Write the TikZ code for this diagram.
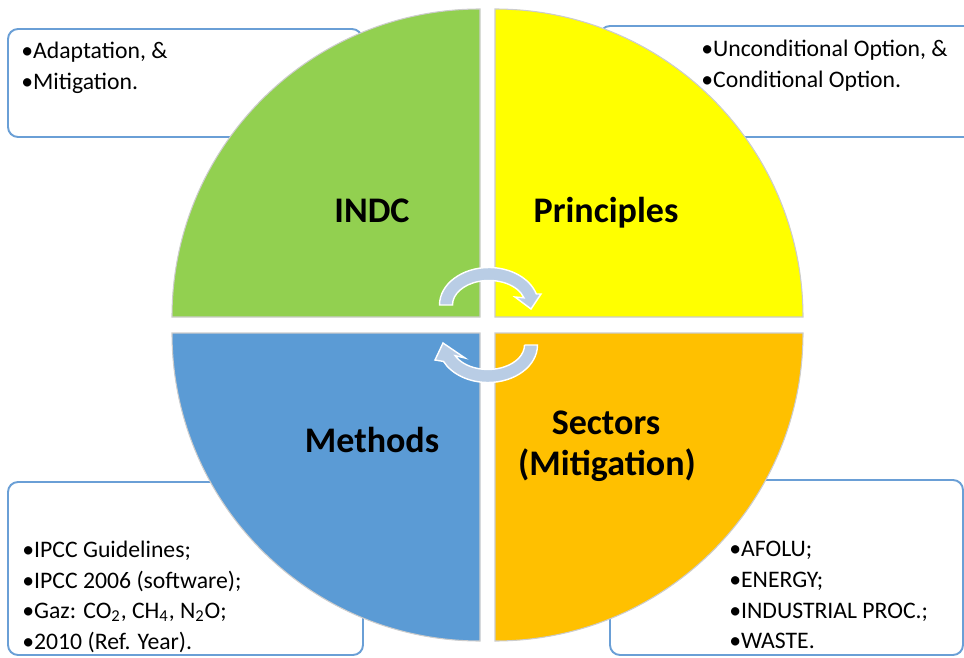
\documentclass[tikz,border=0pt]{standalone}
\usepackage{fontspec}
\setmainfont{Carlito}

\definecolor{indcgreen}{HTML}{92D050}
\definecolor{princyellow}{HTML}{FFFF00}
\definecolor{sectorange}{HTML}{FFC000}
\definecolor{methblue}{HTML}{5B9BD5}
\definecolor{boxline}{HTML}{6A9FD6}
\definecolor{cyclefill}{HTML}{B9CDE5}

\tikzset{
  listbox/.style={draw=boxline, line width=1.1pt, fill=white, rounded corners=0.2cm},
  quadrant/.style={draw=black!20, line width=0.6pt},
  cyclearrow/.style={fill=cyclefill, draw=white, line width=0.8pt},
  title/.style={font=\bfseries\fontsize{20.5pt}{23pt}\selectfont, inner sep=0pt, anchor=base},
  item/.style={font=\fontsize{13.5pt}{18pt}\selectfont, inner sep=0pt, anchor=base west}
}

\begin{document}
\begin{tikzpicture}[x=0.02cm, y=0.02cm]
\useasboundingbox (0, 0) rectangle (964, 657);

% boxes behind the circle
\draw [listbox] (8, 520) rectangle (362, 628);
\draw [listbox] (600, 520) rectangle (985, 631);
\draw [listbox] (8, 2) rectangle (363, 175);
\draw [listbox] (610, 2) rectangle (963, 177);

% quarters
\filldraw [fill=indcgreen, quadrant] (480, 340) -- (172, 340) arc [start angle=180, end angle=90, radius=308] -- cycle;
\filldraw [fill=princyellow, quadrant] (495, 340) -- (495, 648) arc [start angle=90, end angle=0, radius=308] -- cycle;
\filldraw [fill=sectorange, quadrant] (495, 324) -- (803, 324) arc [start angle=0, end angle=-90, radius=308] -- cycle;
\filldraw [fill=methblue, quadrant] (480, 324) -- (480, 16) arc [start angle=270, end angle=180, radius=308] -- cycle;

% cycle arrows
\filldraw [cyclearrow] (452.5, 352) -- (439.5, 352) arc [start angle=180, end angle=17, x radius=49.5, y radius=37.5] -- (541, 363) -- (531, 348) -- (515, 360) -- (523.9, 359.2) arc [start angle=17, end angle=180, x radius=36.5, y radius=24.5] -- cycle;
\filldraw [cyclearrow] (524.5, 312) -- (537.5, 312) arc [start angle=0, end angle=-154, x radius=49.5, y radius=37.5] -- (435, 297) -- (443, 314) -- (465, 299) -- (455.2, 301.3) arc [start angle=-154, end angle=0, x radius=36.5, y radius=24.5] -- cycle;

% titles
\node (indc) at (372, 435) [title] {INDC};
\node (principles) at (606, 435) [title] {Principles};
\node (methods) at (372, 205) [title] {Methods};
\node (sectors) at (606, 223) [title] {Sectors};
\node (mitig) at (607, 182) [title] {(Mitigation)};

% lists
\node (adapt) at (21, 598) [item] {•Adaptation, \&};
\node (mitigtl) at (21, 567) [item] {•Mitigation.};
\node (uncond) at (701, 600) [item] {•Unconditional Option, \&};
\node (cond) at (701, 569) [item] {•Conditional Option.};
\node (guide) at (22, 100) [item] {•IPCC Guidelines;};
\node (soft) at (22, 69) [item] {•IPCC 2006 (software);};
\node (gaz) at (22, 39) [item] {•Gaz: CO\textsubscript{2}, CH\textsubscript{4}, N\textsubscript{2}O;};
\node (refyear) at (22, 8) [item] {•2010 (Ref. Year).};
\node (afolu) at (729, 101) [item] {•AFOLU;};
\node (energy) at (729, 70) [item] {•ENERGY;};
\node (indus) at (729, 39) [item] {•INDUSTRIAL PROC.;};
\node (waste) at (729, 9) [item] {•WASTE.};
\end{tikzpicture}
\end{document}
